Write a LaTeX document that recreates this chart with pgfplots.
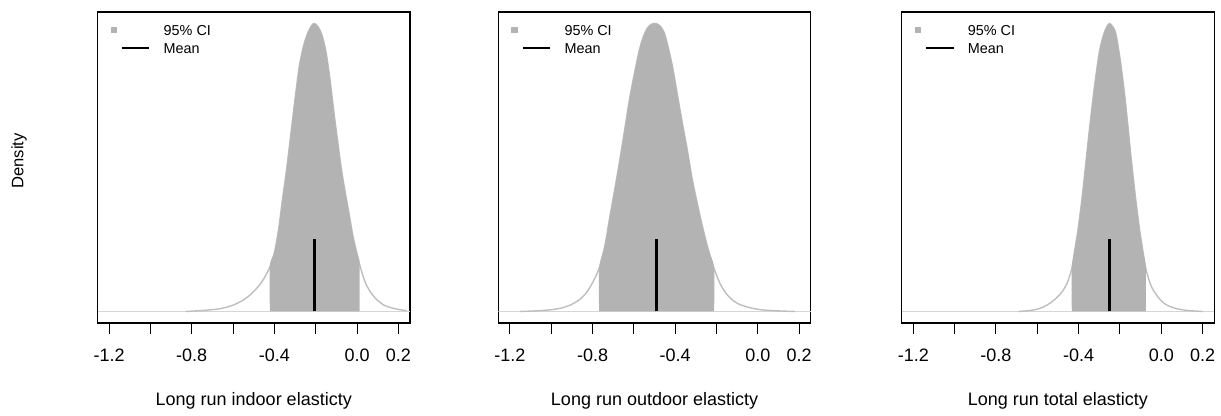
\documentclass[border=0pt]{standalone}
\usepackage{pgfplots}
\usepackage{pgfplotstable}
\pgfplotsset{compat=1.18}
\usepackage{fontspec}
\setmainfont{Liberation Sans}
\definecolor{cifill}{RGB}{179,179,179}
\definecolor{dens}{RGB}{190,190,190}
\definecolor{basec}{RGB}{214,214,214}

% Panel 1: long run indoor elasticity (density scaled to peak = 1)
\pgfplotstableread{
x y
-0.83 0.000
-0.78 0.002
-0.72 0.005
-0.66 0.010
-0.60 0.022
-0.56 0.036
-0.52 0.056
-0.48 0.085
-0.45 0.115
-0.42 0.158
-0.40 0.205
-0.38 0.285
-0.36 0.395
-0.34 0.500
-0.32 0.620
-0.30 0.740
-0.28 0.850
-0.26 0.920
-0.24 0.965
-0.22 0.993
-0.207 1.000
-0.19 0.990
-0.17 0.960
-0.15 0.900
-0.13 0.800
-0.11 0.680
-0.09 0.570
-0.077 0.500
-0.06 0.425
-0.04 0.345
-0.02 0.262
0.00 0.200
0.015 0.156
0.04 0.100
0.07 0.062
0.10 0.038
0.13 0.022
0.16 0.014
0.20 0.007
0.24 0.003
}\dA
\pgfplotstableread{
x y
-0.422 0.000
-0.422 0.158
-0.40 0.205
-0.38 0.285
-0.36 0.395
-0.34 0.500
-0.32 0.620
-0.30 0.740
-0.28 0.850
-0.26 0.920
-0.24 0.965
-0.22 0.993
-0.207 1.000
-0.19 0.990
-0.17 0.960
-0.15 0.900
-0.13 0.800
-0.11 0.680
-0.09 0.570
-0.077 0.500
-0.06 0.425
-0.04 0.345
-0.02 0.262
0.00 0.200
0.012 0.165
0.012 0.000
}\cA

% Panel 2: long run outdoor elasticity
\pgfplotstableread{
x y
-1.15 0.000
-1.05 0.003
-0.98 0.008
-0.94 0.014
-0.90 0.025
-0.865 0.040
-0.83 0.065
-0.80 0.100
-0.768 0.150
-0.74 0.230
-0.719 0.318
-0.695 0.415
-0.671 0.514
-0.645 0.630
-0.622 0.734
-0.598 0.825
-0.574 0.907
-0.554 0.955
-0.534 0.985
-0.514 0.998
-0.494 1.000
-0.474 0.992
-0.453 0.968
-0.433 0.915
-0.413 0.850
-0.39 0.755
-0.365 0.653
-0.34 0.555
-0.317 0.457
-0.292 0.372
-0.268 0.295
-0.24 0.215
-0.212 0.150
-0.185 0.100
-0.155 0.064
-0.12 0.038
-0.09 0.025
-0.058 0.017
-0.02 0.010
0.03 0.005
0.10 0.002
0.18 0.000
}\dB
\pgfplotstableread{
x y
-0.768 0.000
-0.768 0.150
-0.74 0.230
-0.719 0.318
-0.695 0.415
-0.671 0.514
-0.645 0.630
-0.622 0.734
-0.598 0.825
-0.574 0.907
-0.554 0.955
-0.534 0.985
-0.514 0.998
-0.494 1.000
-0.474 0.992
-0.453 0.968
-0.433 0.915
-0.413 0.850
-0.39 0.755
-0.365 0.653
-0.34 0.555
-0.317 0.457
-0.292 0.372
-0.268 0.295
-0.24 0.215
-0.212 0.150
-0.212 0.000
}\cB

% Panel 3: long run total elasticity
\pgfplotstableread{
x y
-0.69 0.000
-0.64 0.003
-0.60 0.008
-0.57 0.016
-0.54 0.028
-0.51 0.045
-0.48 0.068
-0.455 0.100
-0.433 0.150
-0.415 0.230
-0.40 0.300
-0.381 0.410
-0.361 0.545
-0.341 0.676
-0.321 0.795
-0.301 0.896
-0.284 0.950
-0.268 0.983
-0.252 1.000
-0.236 0.990
-0.220 0.965
-0.200 0.880
-0.180 0.770
-0.163 0.655
-0.147 0.540
-0.127 0.410
-0.107 0.295
-0.09 0.215
-0.075 0.150
-0.05 0.090
-0.018 0.052
0.02 0.025
0.063 0.012
0.12 0.004
0.20 0.000
}\dC
\pgfplotstableread{
x y
-0.433 0.000
-0.433 0.150
-0.415 0.230
-0.40 0.300
-0.381 0.410
-0.361 0.545
-0.341 0.676
-0.321 0.795
-0.301 0.896
-0.284 0.950
-0.268 0.983
-0.252 1.000
-0.236 0.990
-0.220 0.965
-0.200 0.880
-0.180 0.770
-0.163 0.655
-0.147 0.540
-0.127 0.410
-0.107 0.295
-0.09 0.215
-0.075 0.150
-0.075 0.000
}\cC

\pgfplotsset{
  elast/.style={
    scale only axis, width=156.25pt, height=155.5pt,
    anchor=south west,
    xmin=-1.256, xmax=0.256, ymin=-0.04, ymax=1.04,
    axis line style={line width=0.6pt},
    ytick=\empty,
    xtick={-1.2,-1.0,-0.8,-0.6,-0.4,-0.2,0.0,0.2},
    xticklabels={-1.2,,-0.8,,-0.4,,0.0,0.2},
    xtick pos=bottom, tick align=outside,
    major tick length=5.5pt,
    tick style={black, line width=0.5pt},
    xticklabel style={font=\fontsize{9}{10}\selectfont, anchor=base, yshift=-14pt},
    xlabel style={font=\fontsize{9}{10}\selectfont, at={(axis description cs:0.5,0)}, anchor=base, yshift=-41.5pt},
    legend style={at={(axis description cs:0,1)}, anchor=north west,
      xshift=6.5pt, yshift=-6.65pt, draw=none, fill=none,
      inner sep=0pt, outer sep=0pt, row sep=4pt, column sep=6.7pt,
      font=\fontsize{7.2}{8}\selectfont,
      nodes={inner sep=0pt, text height=5pt, text depth=0pt}},
    legend cell align=left,
  },
  ciimg/.style={legend image code/.code={
      \fill[cifill, draw=none] (-5.6pt,-1.6pt) rectangle (-2.4pt,1.6pt);
      \path[draw=none, fill=none] (0pt,0pt) -- (13.8pt,0pt);}},
  meanimg/.style={legend image code/.code={
      \path[draw=none, fill=none] (-5.6pt,0pt) -- (0pt,0pt);
      \draw[black, line width=1pt] (0pt,0pt) -- (13.8pt,0pt);}},
}

\begin{document}
\begin{tikzpicture}
\useasboundingbox (0,0) rectangle (610.5pt,208pt);

% ---------- panel 1 ----------
\begin{axis}[elast, at={(48.75pt,46.5pt)},
  xlabel={Long run indoor elasticty},
  ylabel={Density},
  ylabel style={at={(axis description cs:-0.2512,0.5209)}, anchor=center, font=\fontsize{8.3}{9}\selectfont}]
  \addplot[basec, line width=0.5pt, forget plot] coordinates {(-1.256,0) (0.256,0)};
  \addplot[dens, line width=0.7pt, smooth, forget plot] table[x=x,y=y] {\dA};
  \addplot[fill=cifill, draw=none, smooth, forget plot] table[x=x,y=y] {\cA} -- cycle;
  \addplot[black, line width=1.5pt, forget plot] coordinates {(-0.207,0) (-0.207,0.25)};
  \addlegendimage{ciimg}
  \addlegendentry{95\% CI}
  \addlegendimage{meanimg}
  \addlegendentry{Mean}
\end{axis}

% ---------- panel 2 ----------
\begin{axis}[elast, at={(249.15pt,46.5pt)},
  xlabel={Long run outdoor elasticty}]
  \addplot[basec, line width=0.5pt, forget plot] coordinates {(-1.256,0) (0.256,0)};
  \addplot[dens, line width=0.7pt, smooth, forget plot] table[x=x,y=y] {\dB};
  \addplot[fill=cifill, draw=none, smooth, forget plot] table[x=x,y=y] {\cB} -- cycle;
  \addplot[black, line width=1.5pt, forget plot] coordinates {(-0.491,0) (-0.491,0.25)};
  \addlegendimage{ciimg}
  \addlegendentry{95\% CI}
  \addlegendimage{meanimg}
  \addlegendentry{Mean}
\end{axis}

% ---------- panel 3 ----------
\begin{axis}[elast, at={(450.85pt,46.5pt)},
  xlabel={Long run total elasticty}]
  \addplot[basec, line width=0.5pt, forget plot] coordinates {(-1.256,0) (0.256,0)};
  \addplot[dens, line width=0.7pt, smooth, forget plot] table[x=x,y=y] {\dC};
  \addplot[fill=cifill, draw=none, smooth, forget plot] table[x=x,y=y] {\cC} -- cycle;
  \addplot[black, line width=1.5pt, forget plot] coordinates {(-0.252,0) (-0.252,0.25)};
  \addlegendimage{ciimg}
  \addlegendentry{95\% CI}
  \addlegendimage{meanimg}
  \addlegendentry{Mean}
\end{axis}
\end{tikzpicture}
\end{document}
